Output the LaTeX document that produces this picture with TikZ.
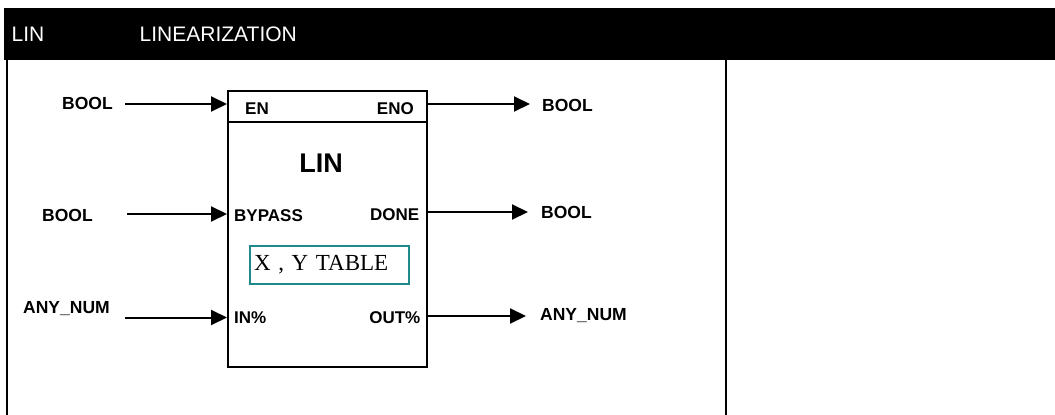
\documentclass[tikz,border=0pt]{standalone}
\usepackage{fontspec}
\setmainfont{Liberation Sans}
\newfontfamily\tablefont{Liberation Serif}
\usetikzlibrary{arrows.meta}
\definecolor{tablecol}{RGB}{32,138,138}

\begin{document}
\begin{tikzpicture}[
    x=1pt, y=-1pt,
    hdr/.style={font=\fontsize{21}{21}\selectfont, text=white, anchor=west, inner sep=0pt},
    port/.style={font=\bfseries\fontsize{17}{17}\selectfont, inner sep=0pt},
    typelbl/.style={font=\bfseries\fontsize{17.5}{17.5}\selectfont, anchor=west, inner sep=0pt},
    fblock/.style={draw, line width=2pt, minimum width=199pt, minimum height=276pt, inner sep=0pt},
    tblbox/.style={draw=tablecol, line width=1.5pt, minimum width=159pt, minimum height=38pt,
                   inner sep=4pt, text width=151pt, align=left,
                   font=\tablefont\fontsize{23}{23}\selectfont},
    sig/.style={-{Triangle[length=16pt, width=15pt]}, line width=2pt},
    frame/.style={line width=2pt}
]
    \useasboundingbox (0,0) rectangle (1055,415);

    % header band and frame
    \fill (4,8) rectangle (1055,60);
    \node[hdr] (hlin)  at (11.5,34.7)  {LIN};
    \node[hdr] (hname) at (139.5,34.7) {LINEARIZATION};
    \draw[frame] (6.5,60) -- (6.5,415);
    \draw[frame] (726,60) -- (726,415);

    % function block
    \node[fblock] (blk) at (327.5,229) {};
    \draw[line width=2pt] (blk.west |- 0,122) -- (blk.east |- 0,122);
    \node[font=\bfseries\fontsize{27}{27}\selectfont, inner sep=0pt] (bname) at (321,163) {LIN};
    \node[tblbox] (tbl) at (329.5,265) {X , Y TABLE};

    % ports
    \node[port, anchor=west] (pen)  at (245,109)   {EN};
    \node[port, anchor=east] (peno) at (414,109)   {ENO};
    \node[port, anchor=west] (pbyp) at (234,215.5) {BYPASS};
    \node[port, anchor=east] (pdon) at (419.5,215) {DONE};
    \node[port, anchor=west] (pin)  at (234,318)   {IN\%};
    \node[port, anchor=east] (pout) at (420.5,317.5) {OUT\%};

    % pin coordinates on the block border
    \coordinate (inEN)  at (blk.west |- 0,104);
    \coordinate (inBY)  at (blk.west |- 0,214);
    \coordinate (inIN)  at (blk.west |- 0,317.5);
    \coordinate (outENO) at (blk.east |- 0,104);
    \coordinate (outDON) at (blk.east |- 0,212);
    \coordinate (outOUT) at (blk.east |- 0,316);

    % data types
    \node[typelbl] (tEN)  at (62,103)  {BOOL};
    \node[typelbl] (tBY)  at (42,215.5) {BOOL};
    \node[typelbl] (tIN)  at (23,309)  {ANY\_NUM};
    \node[typelbl] (tENO) at (542,105) {BOOL};
    \node[typelbl] (tDON) at (541,212) {BOOL};
    \node[typelbl] (tOUT) at (540,316) {ANY\_NUM};

    \coordinate (sEN) at (125,104);
    \coordinate (sBY) at (127,214);
    \coordinate (sIN) at (125,317.5);
    \coordinate (eENO) at (530,104);
    \coordinate (eDON) at (528,212);
    \coordinate (eOUT) at (526,316);

    % signals
    \draw[sig] (sEN) -- (inEN);
    \draw[sig] (sBY) -- (inBY);
    \draw[sig] (sIN) -- (inIN);
    \draw[sig] (outENO) -- (eENO);
    \draw[sig] (outDON) -- (eDON);
    \draw[sig] (outOUT) -- (eOUT);
\end{tikzpicture}
\end{document}
